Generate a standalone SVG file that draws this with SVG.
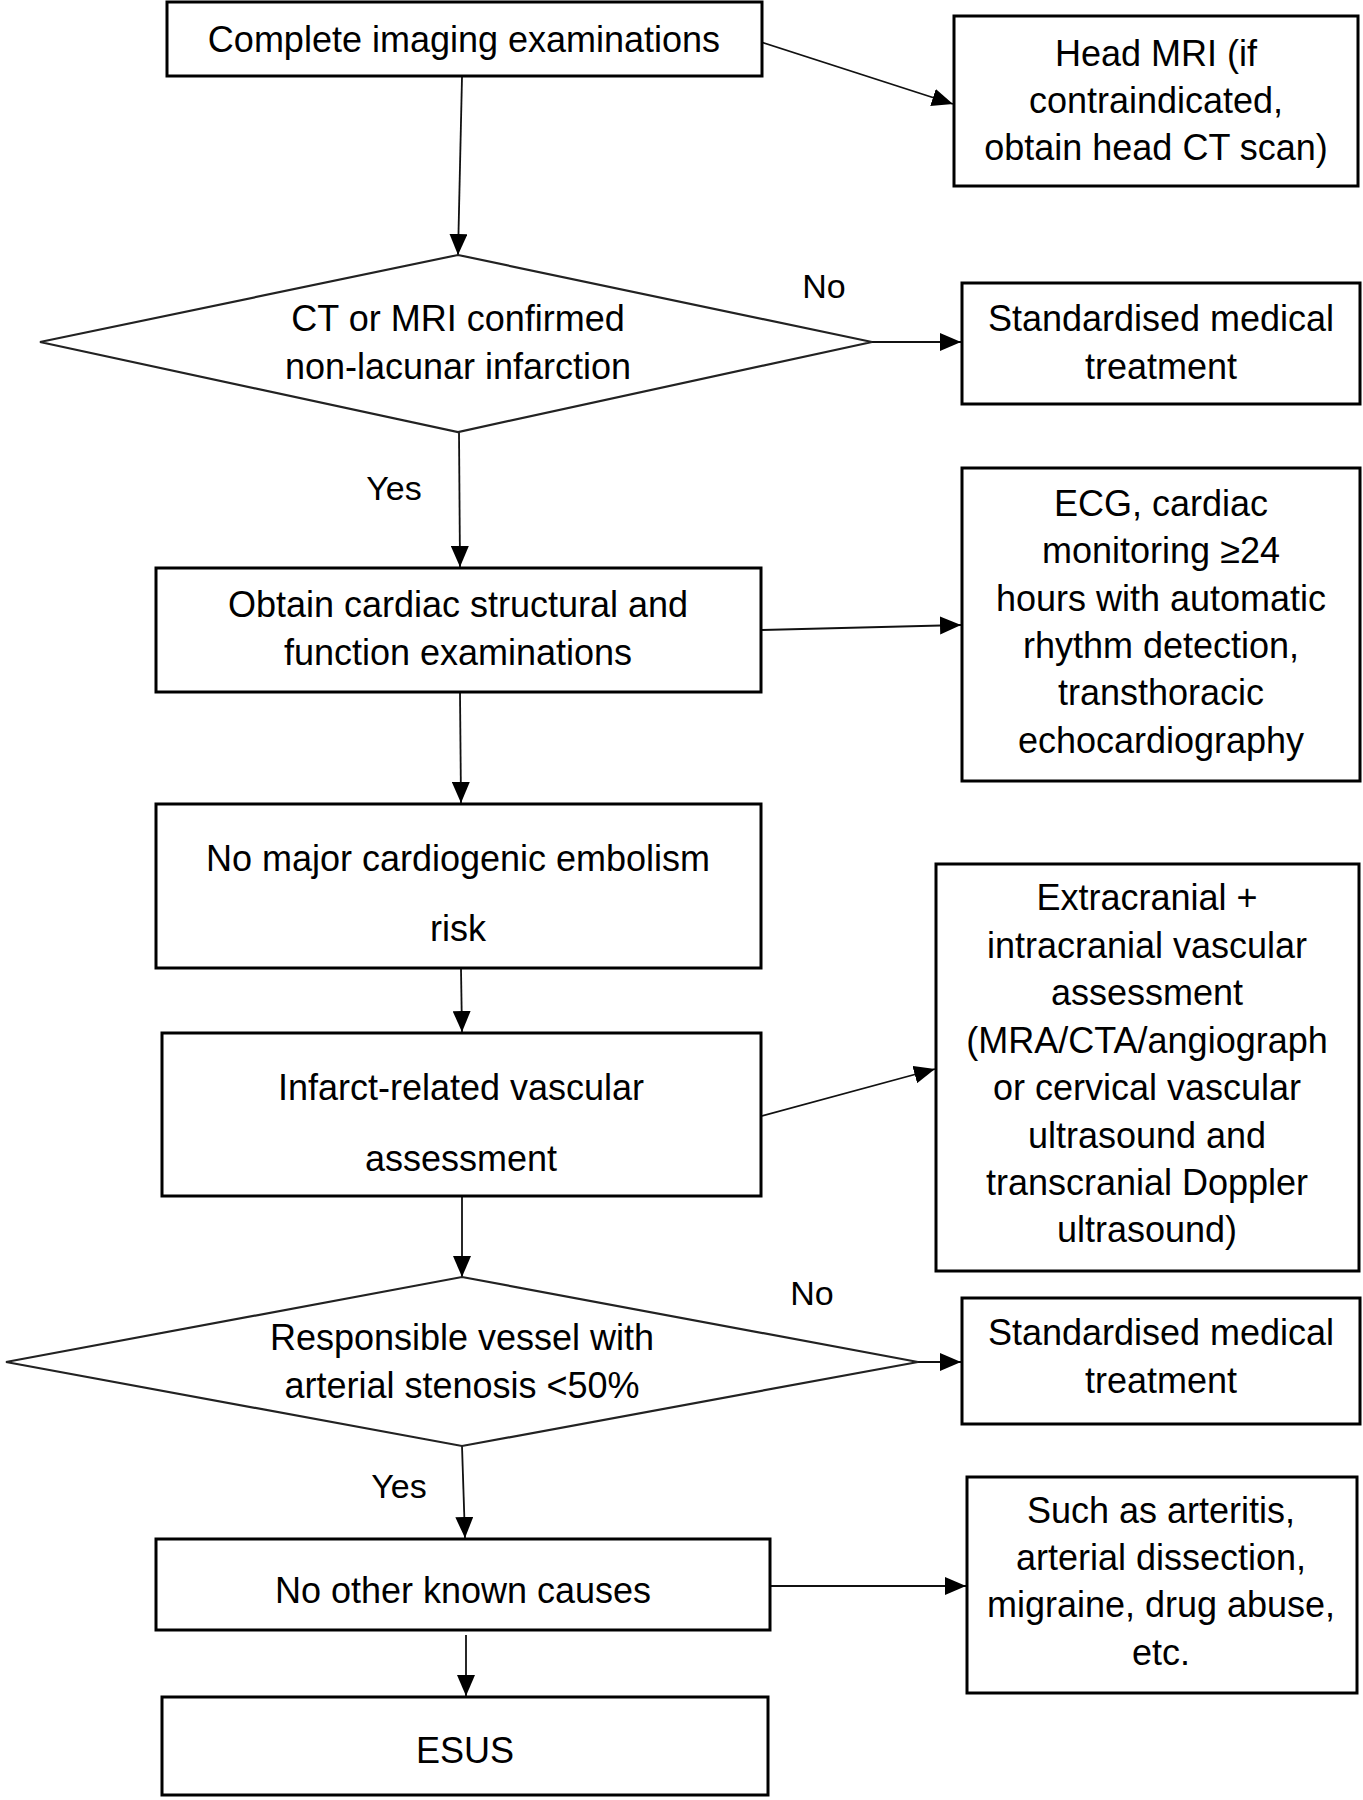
<svg xmlns="http://www.w3.org/2000/svg" width="1363" height="1800" viewBox="0 0 1363 1800">
<style>
.box{fill:#fff;stroke:#000;stroke-width:3}
.dia{fill:#fff;stroke:#222;stroke-width:2.2}
.t{font-family:"Liberation Sans",Arial,sans-serif;font-size:36px;fill:#000;text-anchor:middle}
.lbl{font-family:"Liberation Sans",Arial,sans-serif;font-size:34px;fill:#000;text-anchor:middle}
.c{stroke:#111;stroke-width:1.8;fill:none;marker-end:url(#ah)}
</style>
<defs>
<marker id="ah" markerUnits="userSpaceOnUse" markerWidth="22" markerHeight="18" refX="21" refY="9" orient="auto">
<path d="M0,0 L21,9 L0,18 Z" fill="#000"/>
</marker>
</defs>
<rect width="1363" height="1800" fill="#fff"/>
<g id="connectors">
<line class="c" x1="761" y1="42" x2="953" y2="104"/>
<line class="c" x1="462" y1="77" x2="458" y2="255"/>
<line class="c" x1="872" y1="342" x2="961" y2="342"/>
<line class="c" x1="459" y1="432" x2="460" y2="567"/>
<line class="c" x1="762" y1="630" x2="961" y2="625"/>
<line class="c" x1="460" y1="693" x2="461" y2="803"/>
<line class="c" x1="461" y1="969" x2="462" y2="1032"/>
<line class="c" x1="762" y1="1116" x2="935" y2="1069"/>
<line class="c" x1="462" y1="1197" x2="462" y2="1277"/>
<line class="c" x1="918" y1="1362" x2="961" y2="1362"/>
<line class="c" x1="462" y1="1446" x2="465" y2="1538"/>
<line class="c" x1="771" y1="1586" x2="966" y2="1586"/>
<line class="c" x1="466" y1="1635" x2="466" y2="1696"/>
<text class="lbl" x="824" y="298">No</text>
<text class="lbl" x="394" y="500">Yes</text>
<text class="lbl" x="812" y="1305">No</text>
<text class="lbl" x="399" y="1498">Yes</text>
</g>
<g id="n1"><rect class="box" x="167" y="2" width="595" height="74"/>
<text class="t" x="464" y="52">Complete imaging examinations</text></g>
<g id="n2"><rect class="box" x="954" y="16" width="404" height="170"/>
<text class="t" x="1156" y="66">Head MRI (if</text>
<text class="t" x="1156" y="113">contraindicated,</text>
<text class="t" x="1156" y="160">obtain head CT scan)</text></g>
<g id="d1"><polygon class="dia" points="458,255 872,342 458,432 40,342"/>
<text class="t" x="458" y="331">CT or MRI confirmed</text>
<text class="t" x="458" y="379">non-lacunar infarction</text></g>
<g id="n3"><rect class="box" x="962" y="283" width="398" height="121"/>
<text class="t" x="1161" y="331">Standardised medical</text>
<text class="t" x="1161" y="379">treatment</text></g>
<g id="n4"><rect class="box" x="156" y="568" width="605" height="124"/>
<text class="t" x="458" y="617">Obtain cardiac structural and</text>
<text class="t" x="458" y="665">function examinations</text></g>
<g id="n5"><rect class="box" x="962" y="468" width="398" height="313"/>
<text class="t" x="1161" y="516">ECG, cardiac</text>
<text class="t" x="1161" y="563">monitoring ≥24</text>
<text class="t" x="1161" y="611">hours with automatic</text>
<text class="t" x="1161" y="658">rhythm detection,</text>
<text class="t" x="1161" y="705">transthoracic</text>
<text class="t" x="1161" y="753">echocardiography</text></g>
<g id="n6"><rect class="box" x="156" y="804" width="605" height="164"/>
<text class="t" x="458" y="871">No major cardiogenic embolism</text>
<text class="t" x="458" y="941">risk</text></g>
<g id="n7"><rect class="box" x="936" y="864" width="423" height="407"/>
<text class="t" x="1147" y="910">Extracranial +</text>
<text class="t" x="1147" y="958">intracranial vascular</text>
<text class="t" x="1147" y="1005">assessment</text>
<text class="t" x="1147" y="1053">(MRA/CTA/angiograph</text>
<text class="t" x="1147" y="1100">or cervical vascular</text>
<text class="t" x="1147" y="1148">ultrasound and</text>
<text class="t" x="1147" y="1195">transcranial Doppler</text>
<text class="t" x="1147" y="1242">ultrasound)</text></g>
<g id="n8"><rect class="box" x="162" y="1033" width="599" height="163"/>
<text class="t" x="461" y="1100">Infarct-related vascular</text>
<text class="t" x="461" y="1171">assessment</text></g>
<g id="d2"><polygon class="dia" points="462,1277 918,1362 462,1446 6,1362"/>
<text class="t" x="462" y="1350">Responsible vessel with</text>
<text class="t" x="462" y="1398">arterial stenosis &lt;50%</text></g>
<g id="n9"><rect class="box" x="962" y="1298" width="398" height="126"/>
<text class="t" x="1161" y="1345">Standardised medical</text>
<text class="t" x="1161" y="1393">treatment</text></g>
<g id="n10"><rect class="box" x="156" y="1539" width="614" height="91"/>
<text class="t" x="463" y="1603">No other known causes</text></g>
<g id="n11"><rect class="box" x="967" y="1477" width="390" height="216"/>
<text class="t" x="1161" y="1523">Such as arteritis,</text>
<text class="t" x="1161" y="1570">arterial dissection,</text>
<text class="t" x="1161" y="1617">migraine, drug abuse,</text>
<text class="t" x="1161" y="1665">etc.</text></g>
<g id="n12"><rect class="box" x="162" y="1697" width="606" height="98"/>
<text class="t" x="465" y="1763">ESUS</text></g>
</svg>
